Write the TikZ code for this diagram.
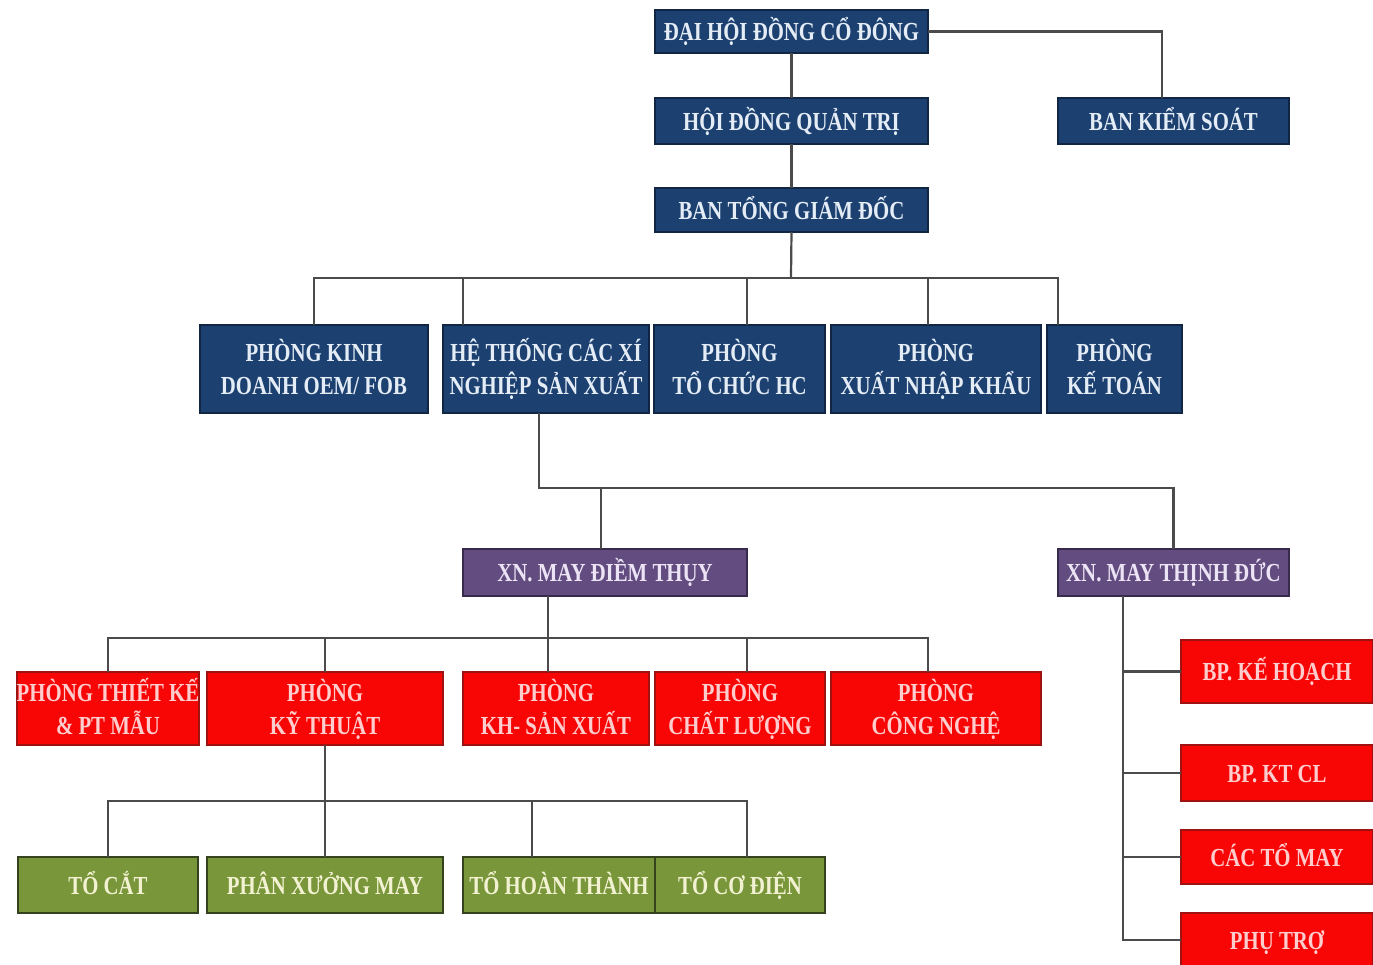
\documentclass[tikz,border=0pt]{standalone}
\usepackage{fontspec}
\newfontfamily\orgfont{Liberation Serif}[FakeStretch=0.8]
\usetikzlibrary{calc}
\definecolor{navyfill}{RGB}{28,64,112}
\definecolor{navyedge}{RGB}{17,38,66}
\definecolor{navytext}{RGB}{228,236,246}
\definecolor{purpfill}{RGB}{98,76,128}
\definecolor{purpedge}{RGB}{55,42,75}
\definecolor{purptext}{RGB}{236,228,245}
\definecolor{redfill}{RGB}{248,6,6}
\definecolor{rededge}{RGB}{160,18,18}
\definecolor{redtext}{RGB}{255,205,205}
\definecolor{grnfill}{RGB}{121,150,58}
\definecolor{grnedge}{RGB}{52,66,30}
\definecolor{grntext}{RGB}{242,242,210}
\definecolor{linegray}{RGB}{75,75,75}
\newcommand\vp{\vphantom{ỄỘ}}
\tikzset{
  ln/.style={draw=linegray, line width=1.1pt},
  bx/.style={inner sep=0pt, outer sep=0pt, align=center,
    font=\orgfont\bfseries\fontsize{13}{16.5}\selectfont, line width=1pt},
  navy/.style={bx, fill=navyfill, draw=navyedge, text=navytext},
  purp/.style={bx, fill=purpfill, draw=purpedge, text=purptext},
  redb/.style={bx, fill=redfill, draw=rededge, text=redtext},
  grn/.style={bx, fill=grnfill, draw=grnedge, text=grntext},
  area/.style args={#1/#2/#3/#4}{minimum width={(#3-#1)*0.5pt},
    minimum height={(#4-#2)*0.5pt}, at={({(#1+#3)/2},{(#2+#4)/2})}},
}
\begin{document}
\begin{tikzpicture}[x=0.5pt,y=-0.5pt]
\fill[white] (0,0) rectangle (1373,965);
\useasboundingbox (0,0) rectangle (1373,965);
% top levels
\node[navy, area=655/10/928/53] (dh) {\vp ĐẠI HỘI ĐỒNG CỔ ĐÔNG};
\node[navy, area=655/98/928/144] (hd) {\vp HỘI ĐỒNG QUẢN TRỊ};
\node[navy, area=1058/98/1289/144] (bks) {\vp BAN KIỂM SOÁT};
\node[navy, area=655/188/928/232] (tgd) {\vp BAN TỔNG GIÁM ĐỐC};
% departments
\node[navy, area=200/325/428/413] (kd) {\vp PHÒNG KINH\\\vp DOANH OEM/ FOB};
\node[navy, area=443/325/649/413] (ht) {\vp HỆ THỐNG CÁC XÍ\\\vp NGHIỆP SẢN XUẤT};
\node[navy, area=654/325/825/413] (tc) {\vp PHÒNG\\\vp TỔ CHỨC HC};
\node[navy, area=831/325/1041/413] (xnk) {\vp PHÒNG\\\vp XUẤT NHẬP KHẨU};
\node[navy, area=1047/325/1182/413] (kt) {\vp PHÒNG\\\vp KẾ TOÁN};
% factories
\node[purp, area=463/549/747/596] (xdt) {\vp XN. MAY ĐIỀM THỤY};
\node[purp, area=1058/549/1289/596] (xtd) {\vp XN. MAY THỊNH ĐỨC};
% red row
\node[redb, area=18/672/198/745] (tk) {\vp PHÒNG THIẾT KẾ\\\vp \& PT MẪU};
\node[redb, area=207/672/443/745] (kyt) {\vp PHÒNG\\\vp KỸ THUẬT};
\node[redb, area=463/672/649/745] (khsx) {\vp PHÒNG\\\vp KH- SẢN XUẤT};
\node[redb, area=655/672/825/745] (cl) {\vp PHÒNG\\\vp CHẤT LƯỢNG};
\node[redb, area=831/672/1041/745] (cn) {\vp PHÒNG\\\vp CÔNG NGHỆ};
% right column
\node[redb, area=1181/640/1373/703] (bpkh) {\vp BP. KẾ HOẠCH};
\node[redb, area=1181/745/1373/801] (bpkt) {\vp BP. KT CL};
\node[redb, area=1181/830/1373/884] (ctm) {\vp CÁC TỔ MAY};
\node[redb, area=1181/913/1373/967] (pt) {\vp PHỤ TRỢ};
% green row
\node[grn, area=18/857/198/913] (tcat) {\vp TỔ CẮT};
\node[grn, area=207/857/443/913] (pxm) {\vp PHÂN XƯỞNG MAY};
\node[grn, area=463/857/655/913] (tht) {\vp TỔ HOÀN THÀNH};
\node[grn, area=655/857/825/913] (tcd) {\vp TỔ CƠ ĐIỆN};
% connectors
\draw[ln] (dh.east) -| ($(bks.north west)+(104,0)$);
\draw[ln] (dh.south) -- (hd.north);
\draw[ln] (hd.south) -- (tgd.north);
\coordinate (busA) at (791,278);
\draw[ln] (tgd.south) -- (busA);
\draw[ln] (kd.north) |- (busA) -| ($(kt.north west)+(11,0)$);
\draw[ln] ($(ht.north west)+(20,0)$) |- (busA);
\draw[ln] ($(tc.north west)+(93,0)$) |- (busA);
\draw[ln] ($(xnk.north west)+(97,0)$) |- (busA);
\coordinate (busB) at (539,488);
\draw[ln] ($(ht.south west)+(96,0)$) -- (busB) -| (xtd.north);
\draw[ln] (busB) -| ($(xdt.north west)+(138,0)$);
\coordinate (busC) at (548,638);
\draw[ln] ($(xdt.south west)+(85,0)$) -- ($(khsx.north west)+(85,0)$);
\draw[ln] (tk.north) |- (busC) -| ($(cn.north west)+(97,0)$);
\draw[ln] (kyt.north) |- (busC);
\draw[ln] ($(cl.north west)+(92,0)$) |- (busC);
\coordinate (busD) at (325,801);
\draw[ln] (kyt.south) -- (busD);
\draw[ln] (tcat.north) |- (busD) -| ($(tcd.north west)+(92,0)$);
\draw[ln] (pxm.north) |- (busD);
\draw[ln] ($(tht.north west)+(69,0)$) |- (busD);
\coordinate (tdx) at ($(xtd.south west)+(65,0)$);
\draw[ln] (tdx) |- (bpkh.west);
\draw[ln] (tdx) |- (bpkt.west);
\draw[ln] (tdx) |- (ctm.west);
\draw[ln] (tdx) |- (pt.west);
\end{tikzpicture}
\end{document}
